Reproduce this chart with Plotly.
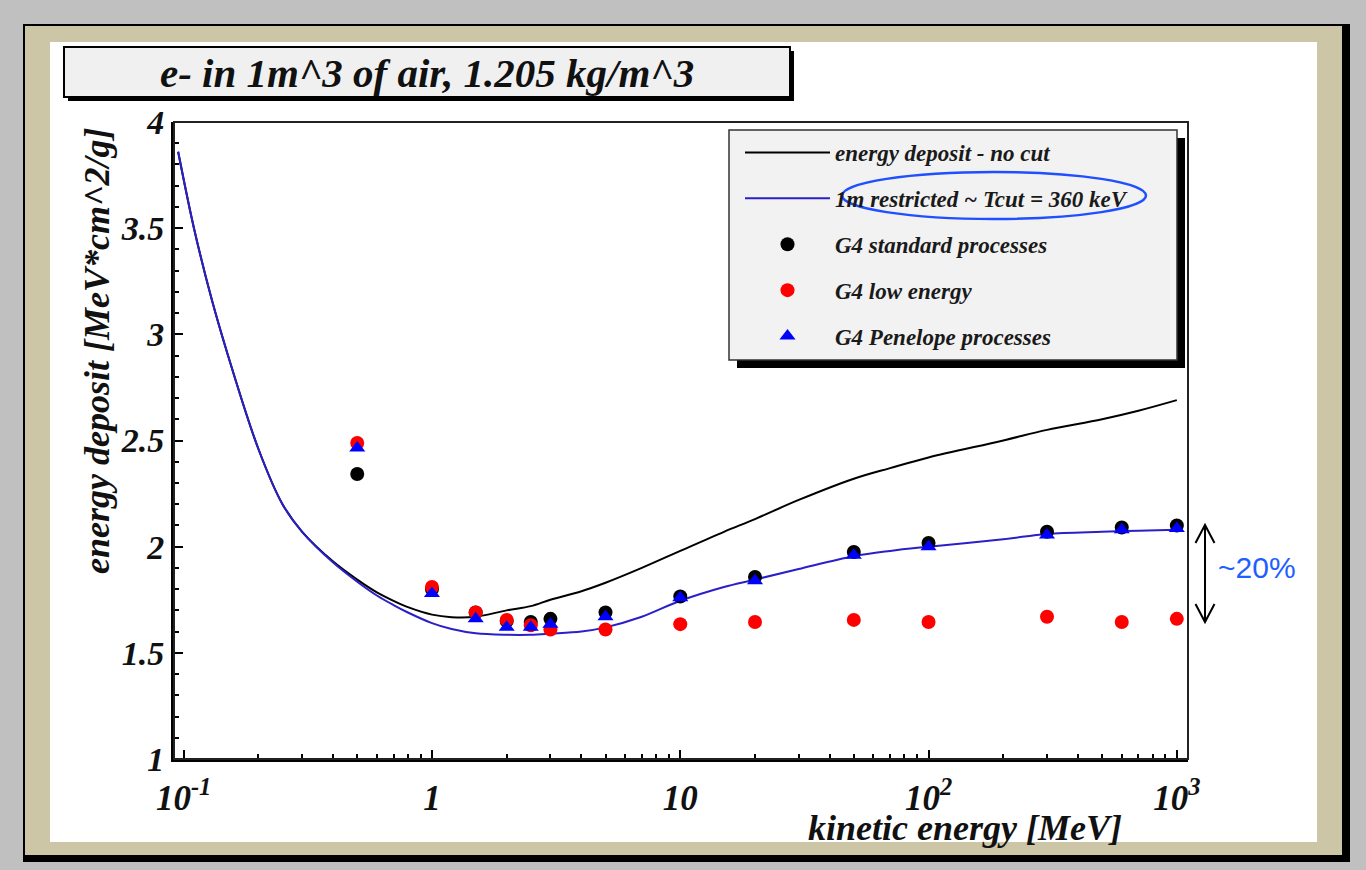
import plotly.graph_objects as go

# ---------------- data ----------------
curve_x = [0.095, 0.11, 0.13, 0.15, 0.2, 0.25, 0.3, 0.4, 0.5, 0.6, 0.7, 0.8, 1.0, 1.2, 1.5,
           2.0, 2.5, 3.0, 4.0, 5.0, 7.0, 10, 15, 20, 30, 50, 70, 100, 200, 300, 500, 700, 1000]
nocut_y = [3.86, 3.50, 3.16, 2.91, 2.46, 2.20, 2.07, 1.93, 1.845, 1.785, 1.745, 1.715, 1.68, 1.668, 1.67,
           1.70, 1.72, 1.75, 1.79, 1.83, 1.90, 1.98, 2.07, 2.13, 2.22, 2.32, 2.37, 2.42, 2.50, 2.55, 2.60, 2.64, 2.69]
restr_y = [3.86, 3.50, 3.16, 2.91, 2.46, 2.20, 2.07, 1.925, 1.835, 1.77, 1.725, 1.69, 1.64, 1.612, 1.592,
           1.585, 1.585, 1.59, 1.60, 1.62, 1.67, 1.745, 1.81, 1.845, 1.895, 1.955, 1.98, 2.00, 2.035, 2.06, 2.07, 2.075, 2.08]

pts_x = [0.5, 1, 1.5, 2, 2.5, 3, 5, 10, 20, 50, 100, 300, 600, 1000]
std_y = [2.342, 1.80, 1.69, 1.65, 1.645, 1.66, 1.69, 1.765, 1.857, 1.975, 2.017, 2.07, 2.09, 2.10]
lowe_y = [2.488, 1.81, 1.69, 1.655, 1.63, 1.61, 1.61, 1.635, 1.645, 1.655, 1.645, 1.67, 1.645, 1.66]
pen_y = [2.465, 1.78, 1.66, 1.62, 1.62, 1.635, 1.67, 1.76, 1.84, 1.96, 2.00, 2.055, 2.08, 2.085]

x_tickvals = [0.1, 1, 10, 100, 1000]
x_ticktext = ["10<sup>-1</sup>", "1", "10", "10<sup>2</sup>", "10<sup>3</sup>"]
y_tickvals = [1, 1.5, 2, 2.5, 3, 3.5, 4]
y_ticktext = ["1", "1.5", "2", "2.5", "3", "3.5", "4"]

title_text = "e- in 1m^3 of air, 1.205 kg/m^3"
xlabel = "kinetic energy [MeV]"
ylabel = "energy deposit [MeV*cm^2/g]"
names = ["energy deposit - no cut", "1m restricted ~ Tcut = 360 keV",
         "G4 standard processes", "G4 low energy", "G4 Penelope processes"]

# ---------------- layout geometry ----------------
W, H = 1366, 870
L, R, T, B = 174, 1188, 122, 759


def px(x):
    return (x - L) / (R - L)


def py(y):
    return (B - y) / (B - T)


SERIF = "Liberation Serif"
BI = dict(family=SERIF, weight="bold", style="italic")

fig = go.Figure()
fig.add_trace(go.Scatter(x=curve_x, y=nocut_y, mode="lines", name=names[0], legendgroup="a",
                         line=dict(color="#000000", width=2, shape="spline", smoothing=1.0)))
fig.add_trace(go.Scatter(x=curve_x, y=restr_y, mode="lines", name=names[1], legendgroup="b",
                         line=dict(color="#2a1fc8", width=2, shape="spline", smoothing=1.0)))
fig.add_trace(go.Scatter(x=pts_x, y=std_y, mode="markers", name=names[2], legendgroup="c",
                         marker=dict(color="#000000", size=14, symbol="circle")))
fig.add_trace(go.Scatter(x=pts_x, y=lowe_y, mode="markers", name=names[3], legendgroup="d",
                         marker=dict(color="#ff0000", size=14, symbol="circle")))
fig.add_trace(go.Scatter(x=pts_x, y=pen_y, mode="markers", name=names[4], legendgroup="e",
                         marker=dict(color="#0000ff", size=14, symbol="triangle-up")))

shapes = []
# outer frame
shapes.append(dict(type="rect", xref="paper", yref="paper", layer="below",
                   x0=px(23), x1=px(1350), y0=py(862), y1=py(24),
                   fillcolor="#000000", line=dict(width=0)))
shapes.append(dict(type="rect", xref="paper", yref="paper", layer="below",
                   x0=px(25), x1=px(1342), y0=py(855), y1=py(26),
                   fillcolor="#ccc5a6", line=dict(width=0)))
shapes.append(dict(type="rect", xref="paper", yref="paper", layer="below",
                   x0=px(50), x1=px(1317), y0=py(842), y1=py(42),
                   fillcolor="#ffffff", line=dict(width=0)))
# title box + shadow
shapes.append(dict(type="rect", xref="paper", yref="paper", layer="below",
                   x0=px(68), x1=px(794), y0=py(101), y1=py(51),
                   fillcolor="#000000", line=dict(width=0)))
shapes.append(dict(type="rect", xref="paper", yref="paper", layer="below",
                   x0=px(64), x1=px(790), y0=py(97), y1=py(47),
                   fillcolor="#f0f0f0", line=dict(color="#000000", width=2)))
# plot border (top/right thinner)
shapes.append(dict(type="rect", xref="paper", yref="paper", layer="above",
                   x0=0, x1=1, y0=0, y1=1, line=dict(color="#222222", width=2)))
# legend box + shadow
shapes.append(dict(type="rect", xref="paper", yref="paper", layer="above",
                   x0=px(737), x1=px(1185), y0=py(368), y1=py(138),
                   fillcolor="#000000", line=dict(width=0)))
shapes.append(dict(type="rect", xref="paper", yref="paper", layer="above",
                   x0=px(729), x1=px(1177), y0=py(360), y1=py(130),
                   fillcolor="#f2f2f2", line=dict(color="#333333", width=1.5)))
# highlight ellipse
shapes.append(dict(type="circle", xref="paper", yref="paper", layer="above",
                   x0=px(842), x1=px(1146), y0=py(219), y1=py(172),
                   line=dict(color="#1f4fff", width=2.5)))
# ~20% double arrow
shapes.append(dict(type="line", xref="paper", yref="paper", layer="above",
                   x0=px(1205), x1=px(1205), y0=py(525), y1=py(622),
                   line=dict(color="#000000", width=2)))
shapes.append(dict(type="path", xref="paper", yref="paper", layer="above",
                   path="M%f,%f L%f,%f L%f,%f" % (px(1195.5), py(543), px(1205), py(525), px(1214.5), py(543)),
                   line=dict(color="#000000", width=2)))
shapes.append(dict(type="path", xref="paper", yref="paper", layer="above",
                   path="M%f,%f L%f,%f L%f,%f" % (px(1195.5), py(604), px(1205), py(622), px(1214.5), py(604)),
                   line=dict(color="#000000", width=2)))

annotations = [
    dict(text=title_text, xref="paper", yref="paper", x=px(427), y=py(73), showarrow=False,
         xanchor="center", yanchor="middle", font=dict(size=41, color="#111111", **BI)),
    dict(text=ylabel, xref="paper", yref="paper", x=px(97), y=py(351), showarrow=False,
         textangle=-90, xanchor="center", yanchor="middle", font=dict(size=36, color="#111111", **BI)),
    dict(text=xlabel, xref="paper", yref="paper", x=px(965), y=py(828), showarrow=False,
         xanchor="center", yanchor="middle", font=dict(size=36, color="#111111", **BI)),
    dict(text="~20%", xref="paper", yref="paper", x=px(1216), y=py(567), showarrow=False,
         xanchor="left", yanchor="middle", font=dict(family="Liberation Sans", size=30, color="#1f5fff")),
]

fig.update_layout(
    width=W, height=H,
    margin=dict(l=L, r=W - R, t=T, b=H - B, pad=0),
    paper_bgcolor="#c0c0c0",
    plot_bgcolor="rgba(0,0,0,0)",
    shapes=shapes,
    annotations=annotations,
    showlegend=True,
    legend=dict(x=px(740), y=py(131), xanchor="left", yanchor="top",
                bgcolor="rgba(0,0,0,0)", borderwidth=0, itemwidth=85,
                tracegroupgap=13, traceorder="grouped",
                font=dict(size=23, color="#1a1a1a", **BI)),
    xaxis=dict(type="log", range=[-1.039, 3.045], showgrid=False, zeroline=False,
               showline=True, linecolor="#000000", linewidth=3,
               ticks="inside", ticklen=9, tickwidth=1.5, tickcolor="#000000",
               tickvals=x_tickvals, ticktext=x_ticktext, ticklabelstandoff=6,
               tickfont=dict(size=35, color="#111111", **BI),
               minor=dict(ticks="inside", ticklen=5, tickwidth=1.5, tickcolor="#000000", dtick="D1")),
    yaxis=dict(range=[1, 4], showgrid=False, zeroline=False,
               showline=True, linecolor="#000000", linewidth=3,
               ticks="inside", ticklen=9, tickwidth=1.5, tickcolor="#000000",
               tickvals=y_tickvals, ticktext=y_ticktext, ticklabelstandoff=0,
               tickfont=dict(size=34, color="#111111", **BI),
               minor=dict(ticks="inside", ticklen=5, tickwidth=1.5, tickcolor="#000000", dtick=0.1)),
)

fig.write_html("out.html", config={"displayModeBar": False},
               post_script="document.body.style.margin='0px';")
